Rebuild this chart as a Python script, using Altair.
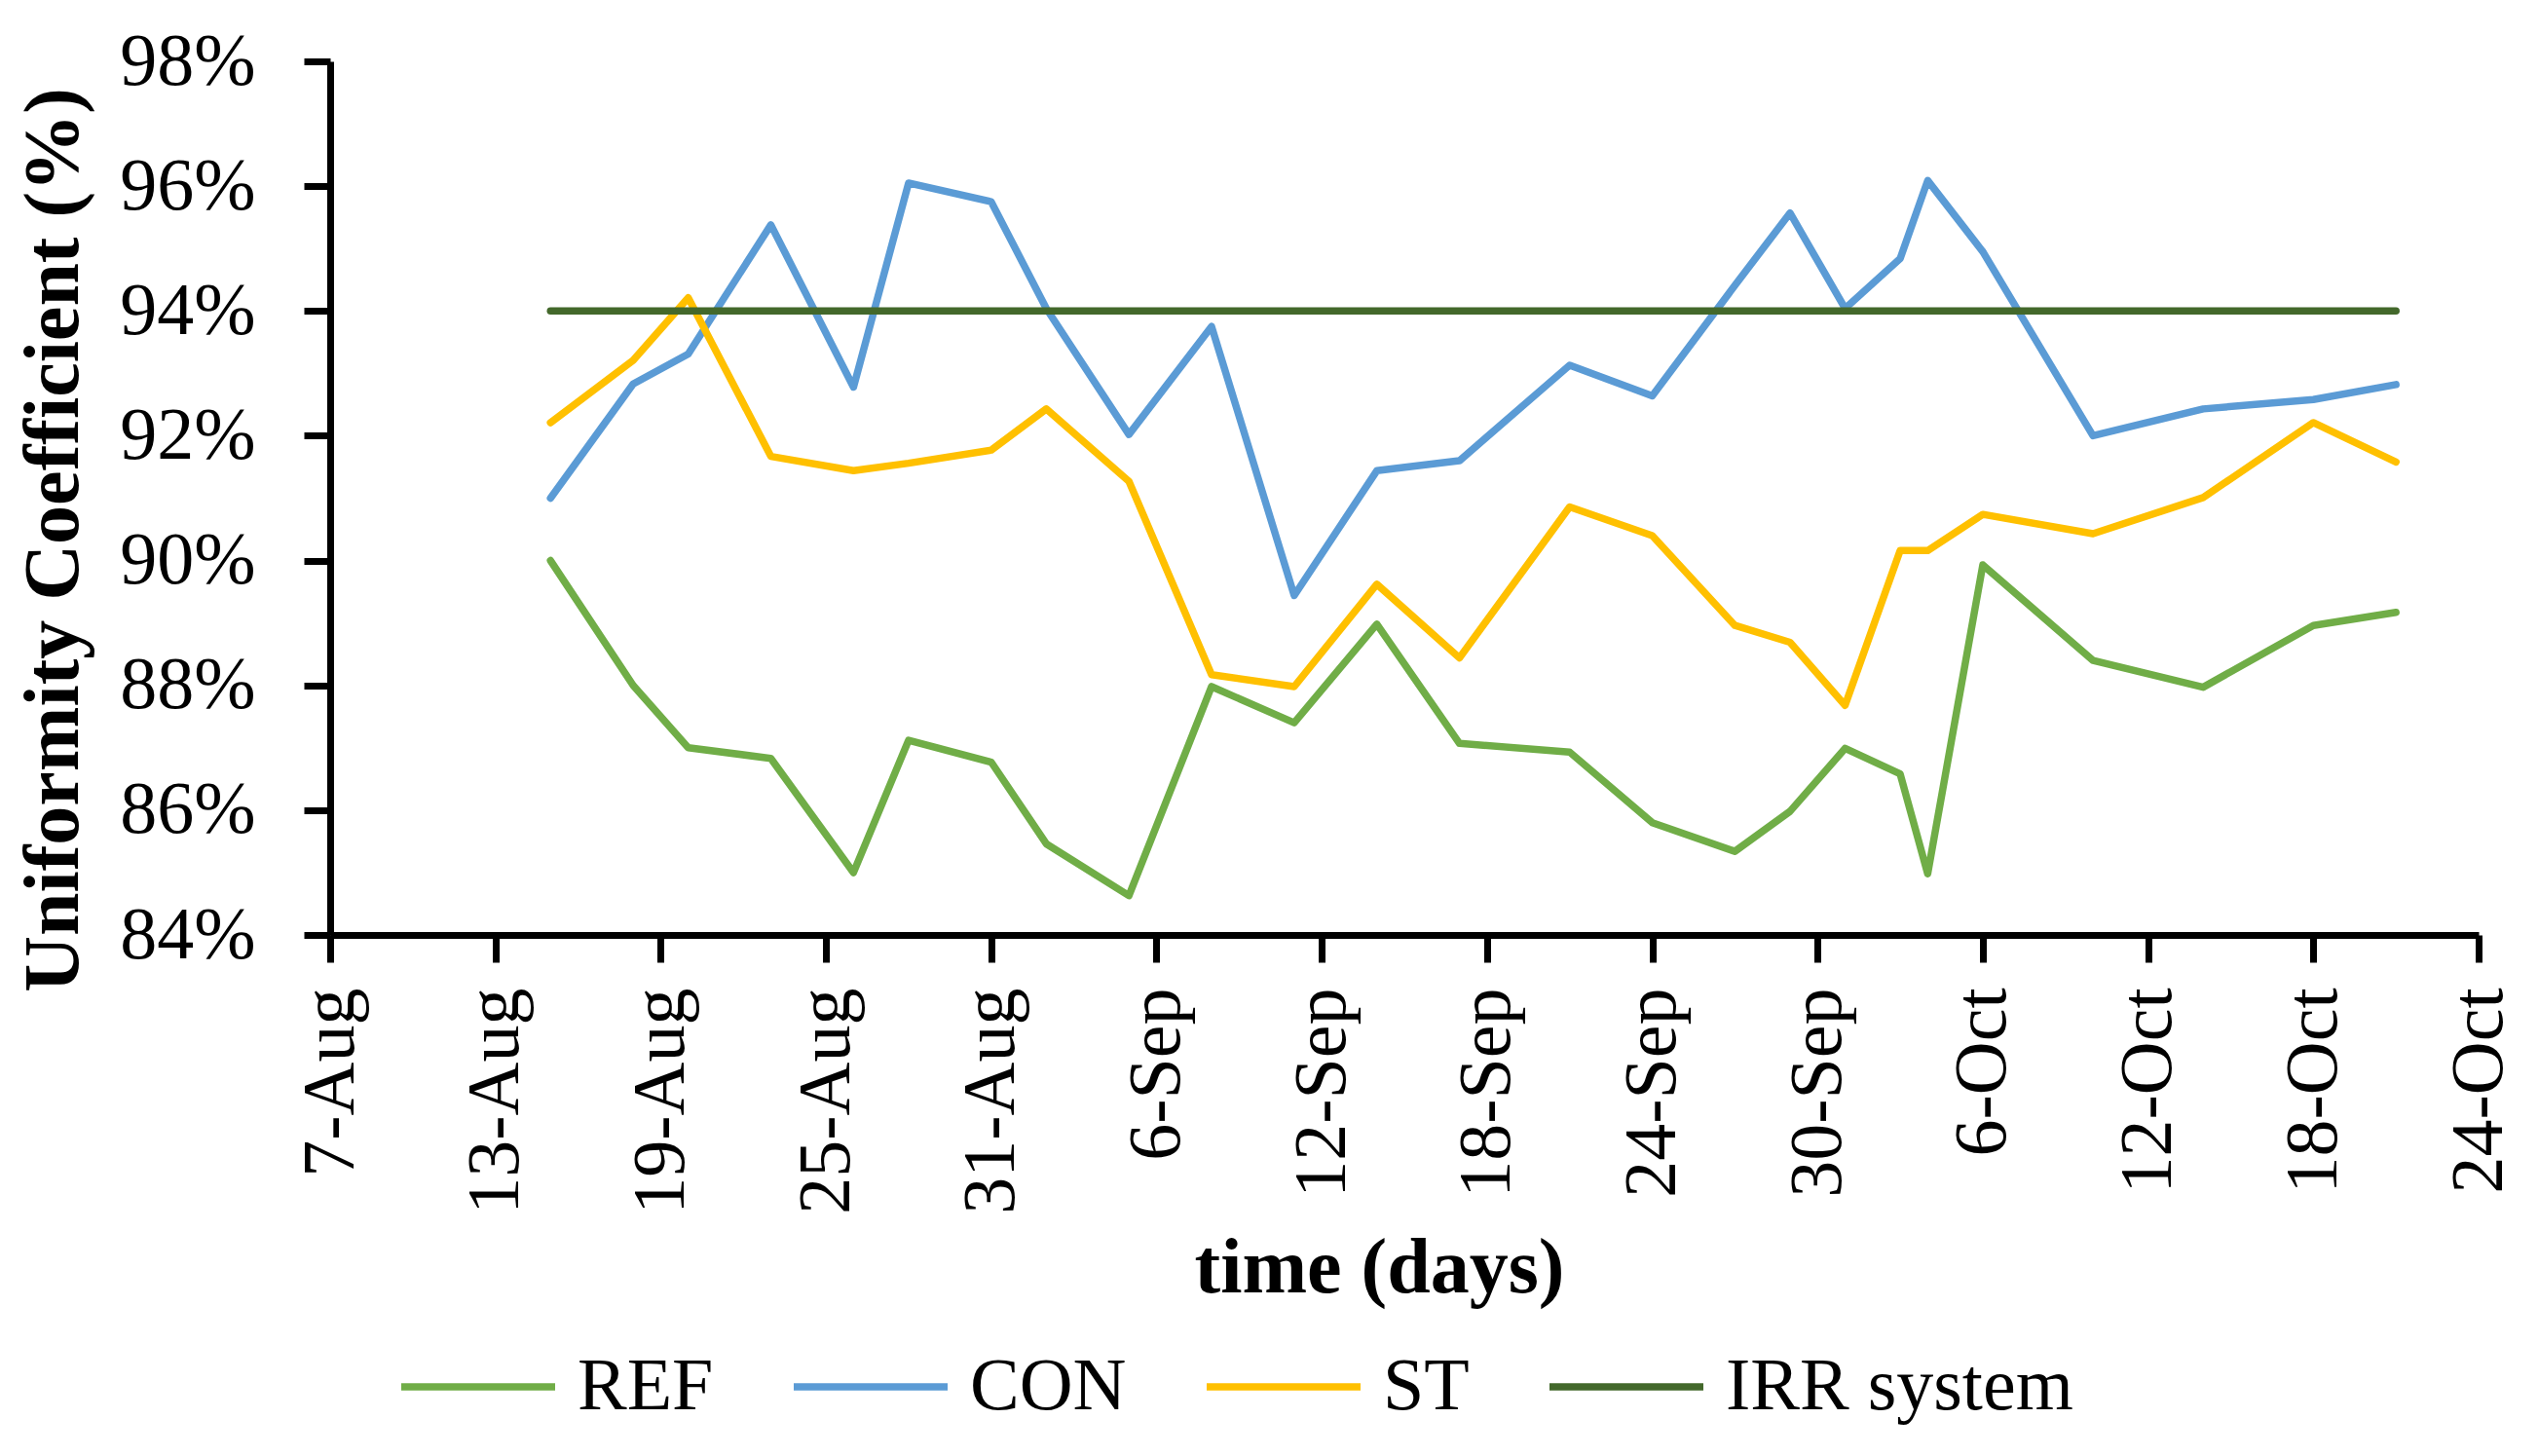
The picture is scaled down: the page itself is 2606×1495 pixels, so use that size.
import altair as alt
import pandas as pd

dates = ["2019-08-15", "2019-08-18", "2019-08-20", "2019-08-23", "2019-08-26",
         "2019-08-28", "2019-08-31", "2019-09-02", "2019-09-05", "2019-09-08",
         "2019-09-11", "2019-09-14", "2019-09-17", "2019-09-21", "2019-09-24",
         "2019-09-27", "2019-09-29", "2019-10-01", "2019-10-03", "2019-10-04",
         "2019-10-06", "2019-10-10", "2019-10-14", "2019-10-18", "2019-10-21"]

ref = [90.0, 88.0, 87.0, 86.83, 85.0, 87.12, 86.77, 85.46, 84.63, 87.98,
       87.40, 88.98, 87.07, 86.93, 85.80, 85.34, 85.98, 86.99, 86.58, 84.98,
       89.93, 88.40, 87.97, 88.96, 89.17]
con = [91.0, 92.83, 93.31, 95.38, 92.78, 96.05, 95.75, 94.04, 92.02, 93.75,
       89.44, 91.44, 91.60, 93.13, 92.64, 94.41, 95.57, 94.04, 94.84, 96.09,
       94.95, 92.0, 92.43, 92.58, 92.82]
st = [92.21, 93.21, 94.21, 91.67, 91.44, 91.56, 91.77, 92.43, 91.27, 88.17,
      87.98, 89.62, 88.44, 90.86, 90.40, 88.96, 88.69, 87.68, 90.16, 90.16,
      90.74, 90.43, 91.01, 92.21, 91.58]
irr = [94.0] * len(dates)

series_names = ["REF", "CON", "ST", "IRR system"]
series_colors = ["#70AD47", "#5B9BD5", "#FFC000", "#43682B"]
y_ticks = [84, 86, 88, 90, 92, 94, 96, 98]
x_tick_days = [(8, 7), (8, 13), (8, 19), (8, 25), (8, 31), (9, 6), (9, 12),
               (9, 18), (9, 24), (9, 30), (10, 6), (10, 12), (10, 18), (10, 24)]

rows = []
for name, vals in zip(series_names, [ref, con, st, irr]):
    for d, v in zip(dates, vals):
        rows.append({"series": name, "date": d, "value": v,
                     "order": series_names.index(name)})
df = pd.DataFrame(rows)

FONT = "Liberation Serif"

x_values = [alt.DateTime(year=2019, month=m, date=d, utc=True) for m, d in x_tick_days]

chart = alt.Chart(df).mark_line(strokeWidth=7.5, strokeJoin="round", strokeCap="round").encode(
    x=alt.X("date:T",
            scale=alt.Scale(type="utc",
                            domain=[alt.DateTime(year=2019, month=8, date=7, utc=True),
                                    alt.DateTime(year=2019, month=10, date=24, utc=True)]),
            axis=alt.Axis(values=x_values,
                          labelExpr="utcFormat(datum.value, '%-d-%b')",
                          labelAngle=270, labelAlign="right", labelBaseline="middle",
                          labelPadding=26, tickSize=28, labelOverlap=False, labelFlush=False,
                          labelLimit=0,
                          title="time (days)", titleX=1077, titleY=342,
                          titleAlign="center", titleBaseline="middle")),
    y=alt.Y("value:Q",
            scale=alt.Scale(domain=[84, 98], nice=False, zero=False),
            axis=alt.Axis(values=y_ticks, labelExpr="datum.value + '%'",
                          labelPadding=50, tickSize=27, labelLimit=0,
                          title="Uniformity Coefficient (%)", titleX=-284, titleY=491,
                          titleAngle=270, titleAlign="center", titleBaseline="middle")),
    color=alt.Color("series:N",
                    scale=alt.Scale(domain=series_names, range=series_colors),
                    legend=alt.Legend(orient="none", legendX=69, legendY=1278,
                                      direction="horizontal", columns=4, title=None,
                                      symbolType="stroke", symbolSize=24964,
                                      symbolStrokeWidth=7.5, labelFont=FONT,
                                      labelFontSize=76, labelColor="black", labelLimit=0,
                                      columnPadding=67, labelOffset=19, padding=0)),
    order=alt.Order("order:Q"),
).properties(
    width=2206, height=897,
    autosize=alt.AutoSizeParams(type="none"),
    padding={"left": 331, "top": 55, "right": 53, "bottom": 527},
    background="white",
).configure_view(stroke=None).configure_axis(
    grid=False,
    domainColor="black", domainWidth=7,
    tickColor="black", tickWidth=7,
    labelFont=FONT, labelFontSize=76, labelColor="black",
    titleFont=FONT, titleFontSize=80, titleFontWeight="bold", titleColor="black",
)

chart.save("out.html", embed_options={"renderer": "svg", "actions": False})
